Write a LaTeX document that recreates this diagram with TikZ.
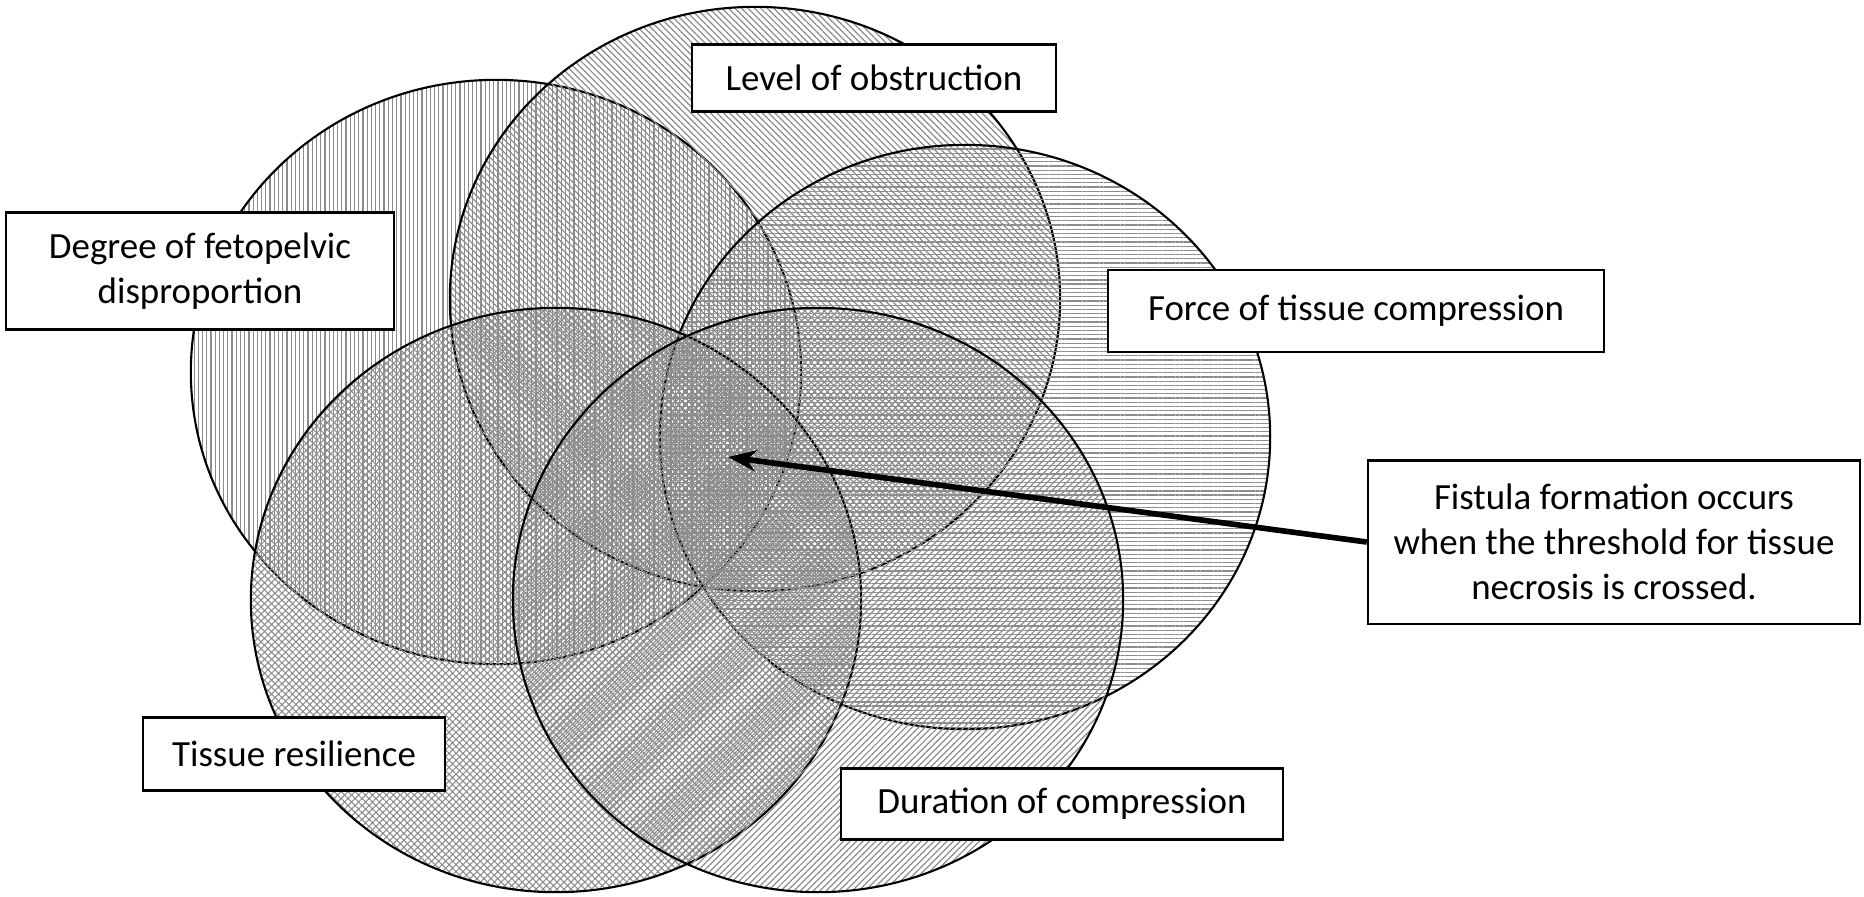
\documentclass[tikz,border=0pt]{standalone}
\usepackage{fontspec}
\setmainfont{Carlito}
\usetikzlibrary{shapes,arrows.meta,positioning,calc,patterns.meta}

\begin{document}
\begin{tikzpicture}[x=0.01cm, y=-0.01cm, every node/.style={font=\fontsize{10.5}{12.8}\selectfont},
    oval/.style={draw, line width=0.6pt, pattern color=black!45},
    labelbox/.style={draw, fill=white, line width=0.6pt, inner sep=0pt, align=center}]
            \useasboundingbox (0,0) rectangle (1864,896);

            % Degree oval (vertical lines)
            \draw[oval, pattern={Lines[angle=90, distance=1.2pt, line width=0.35pt]}] (496,372) ellipse [x radius=3.05cm, y radius=2.92cm];
            % Level oval
            \draw[oval, pattern={Lines[angle=-45, distance=1.3pt, line width=0.35pt]}] (755,299) ellipse [x radius=3.05cm, y radius=2.92cm];
            % Force oval (horizontal lines)
            \draw[oval, pattern={Lines[angle=0, distance=1.2pt, line width=0.35pt]}] (965,437) ellipse [x radius=3.05cm, y radius=2.92cm];
            % Tissue oval
            \draw[oval, pattern={Hatch[angle=45, distance=1.4pt, line width=0.3pt]}] (556,600) ellipse [x radius=3.05cm, y radius=2.92cm];
            % Duration oval
            \draw[oval, pattern={Lines[angle=45, distance=1.3pt, line width=0.35pt]}] (818,600) ellipse [x radius=3.05cm, y radius=2.92cm];

            % Labels
            \node[labelbox, minimum width=3.87cm, minimum height=1.17cm] (degree) at (200,271) {Degree of fetopelvic\\disproportion};
            \node[labelbox, minimum width=3.63cm, minimum height=0.67cm] (level) at (874,78) {Level of obstruction};
            \node[labelbox, minimum width=4.96cm, minimum height=0.82cm] (force) at (1356,311) {Force of tissue compression};
            \node[labelbox, minimum width=3.01cm, minimum height=0.73cm] (tissue) at (294,754) {Tissue resilience};
            \node[labelbox, minimum width=4.42cm, minimum height=0.71cm] (duration) at (1062,804) {Duration of compression};
            \node[labelbox, minimum width=4.92cm, minimum height=1.63cm] (fistula) at (1614,542) {Fistula formation occurs\\when the threshold for tissue\\necrosis is crossed.};

            % Arrow into the overlap
            \coordinate (tip) at (728,457);
            \draw[-{Stealth[length=8pt, width=6pt]}, line width=1.6pt] (fistula.west) -- (tip);
        \end{tikzpicture}
\end{document}
